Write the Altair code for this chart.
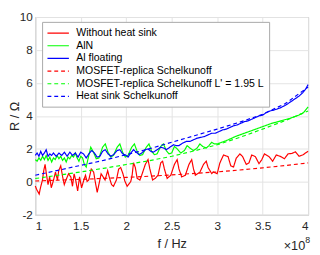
import altair as alt
import pandas as pd

# ---- data (frequency in units of 1e8 Hz, resistance in Ohm) ----
red_f = [1.000, 1.014, 1.043, 1.057, 1.079, 1.093, 1.108, 1.122, 1.140, 1.158, 1.176, 1.201, 1.222, 1.244,
         1.258, 1.280, 1.301, 1.319, 1.337, 1.366, 1.391, 1.409, 1.427, 1.444, 1.466, 1.487, 1.509, 1.534,
         1.552, 1.570, 1.588, 1.616, 1.642, 1.659, 1.681, 1.703, 1.724, 1.746, 1.767, 1.796, 1.817, 1.839,
         1.860, 1.892, 1.917, 1.939, 1.964, 1.985, 2.010, 2.050, 2.065, 2.080, 2.100, 2.120, 2.150, 2.170,
         2.210, 2.240, 2.260, 2.290, 2.320, 2.350, 2.380, 2.400, 2.420, 2.450, 2.490, 2.530, 2.560, 2.580,
         2.610, 2.650, 2.690, 2.720, 2.740, 2.760, 2.810, 2.850, 2.880, 2.900, 2.940, 2.960, 3.000, 3.030,
         3.070, 3.120, 3.150, 3.180, 3.210, 3.250, 3.280, 3.320, 3.350, 3.380, 3.420, 3.460, 3.490, 3.520,
         3.570, 3.610, 3.650, 3.700, 3.740, 3.780, 3.820, 3.860, 3.900, 3.940, 3.980, 4.000]
red_r = [-0.25, -0.45, -0.74, -0.36, 0.11, 0.68, 1.06, 0.49, -0.17, 0.30, -0.36, 0.11, 0.59, 0.11,
         0.68, 0.97, 0.30, -0.17, 0.11, 0.49, 0.30, -0.27, 0.49, 0.11, -0.55, 0.30, -0.36, 0.11,
         0.40, 0.02, 0.11, 0.78, 0.59, 0.02, -0.64, -0.07, 0.49, 0.30, 0.11, 0.68, 0.21, -0.17,
         -0.27, 0.11, 0.78, 0.87, 0.49, 0.05, -0.27, 0.02, 0.40, 1.16, 0.87, 0.21, 0.11, 0.40,
         1.06, 1.35, 0.78, 0.11, 0.21, 0.40, 1.16, 1.25, 0.78, 0.21, 0.40, 1.06, 1.35, 0.78,
         0.30, 0.40, 1.06, 1.35, 0.78, 0.40, 0.59, 1.06, 1.25, 0.87, 0.50, 0.60, 0.49, 1.15,
         1.63, 1.53, 0.97, 0.90, 1.44, 1.70, 1.53, 1.06, 1.15, 1.63, 1.53, 1.10, 1.34, 1.70,
         1.53, 1.25, 1.63, 1.53, 1.40, 1.70, 1.72, 1.82, 1.55, 1.63, 1.78, 1.85]

green_f = [1.00, 1.02, 1.04, 1.06, 1.08, 1.10, 1.12, 1.14, 1.16, 1.18, 1.20, 1.22, 1.24, 1.26, 1.28, 1.30,
           1.32, 1.34, 1.36, 1.38, 1.40, 1.42, 1.44, 1.46, 1.48, 1.50, 1.52, 1.54, 1.56, 1.58, 1.61, 1.64,
           1.67, 1.70, 1.74, 1.77, 1.80, 1.83, 1.86, 1.90, 1.93, 1.96, 1.99, 2.02, 2.06, 2.09, 2.12, 2.15,
           2.18, 2.22, 2.25, 2.28, 2.31, 2.34, 2.38, 2.41, 2.44, 2.47, 2.50, 2.53, 2.56, 2.60, 2.64, 2.67,
           2.70, 2.74, 2.78, 2.81, 2.84, 2.88, 2.91, 2.94, 2.97, 3.00, 3.05, 3.10, 3.15, 3.20, 3.25, 3.30,
           3.35, 3.40, 3.45, 3.50, 3.55, 3.60, 3.65, 3.70, 3.75, 3.80, 3.85, 3.90, 3.95, 4.00]
green_r = [1.35, 1.25, 1.45, 1.30, 1.55, 1.35, 1.60, 1.30, 1.50, 1.20, 1.45, 1.35, 1.60, 1.40, 1.55, 1.30,
           1.45, 1.20, 1.50, 1.40, 1.60, 1.50, 1.75, 1.45, 1.25, 1.55, 1.45, 1.05, 0.90, 1.40, 2.10, 1.80,
           1.40, 1.45, 2.10, 2.30, 1.80, 1.50, 1.60, 2.10, 2.30, 1.80, 1.50, 1.60, 2.10, 2.30, 1.85, 1.60,
           1.65, 2.10, 2.30, 1.85, 1.65, 1.70, 2.15, 2.30, 1.90, 1.70, 1.75, 2.15, 2.00, 1.75, 1.90, 2.20,
           2.05, 1.90, 2.05, 2.30, 2.15, 2.05, 2.20, 2.40, 2.30, 2.30, 2.40, 2.50, 2.62, 2.75, 2.85, 2.95,
           3.05, 3.15, 3.25, 3.35, 3.45, 3.55, 3.62, 3.70, 3.78, 3.85, 3.95, 4.05, 4.20, 4.55]

blue_f = [1.00, 1.02, 1.04, 1.06, 1.08, 1.10, 1.12, 1.14, 1.16, 1.18, 1.20, 1.23, 1.26, 1.29, 1.32, 1.35,
          1.38, 1.41, 1.44, 1.47, 1.50, 1.53, 1.56, 1.59, 1.62, 1.65, 1.68, 1.71, 1.74, 1.77, 1.80, 1.83,
          1.86, 1.90, 1.93, 1.96, 2.00, 2.02, 2.05, 2.08, 2.11, 2.14, 2.17, 2.21, 2.24, 2.27, 2.30, 2.34,
          2.38, 2.41, 2.44, 2.48, 2.52, 2.55, 2.58, 2.62, 2.66, 2.70, 2.74, 2.78, 2.82, 2.86, 2.90, 2.94,
          2.98, 3.02, 3.06, 3.10, 3.14, 3.18, 3.22, 3.26, 3.30, 3.34, 3.38, 3.42, 3.46, 3.50, 3.54, 3.58,
          3.62, 3.66, 3.70, 3.74, 3.78, 3.82, 3.86, 3.90, 3.94, 3.97, 4.00]
blue_r = [1.60, 1.75, 1.55, 1.85, 1.60, 1.75, 1.95, 1.55, 1.70, 1.60, 1.75, 1.55, 1.75, 1.60, 1.80, 1.55,
          1.80, 1.60, 1.75, 1.50, 1.80, 1.70, 1.45, 1.70, 1.90, 1.75, 1.50, 1.55, 1.85, 1.95, 1.70, 1.55,
          1.65, 1.90, 1.95, 1.70, 1.60, 1.50, 1.75, 1.95, 1.80, 1.65, 1.75, 1.95, 2.00, 1.85, 1.80, 1.95,
          2.10, 2.05, 1.95, 2.10, 2.25, 2.20, 2.20, 2.35, 2.45, 2.45, 2.55, 2.65, 2.70, 2.75, 2.85, 2.95,
          2.95, 3.05, 3.15, 3.20, 3.30, 3.40, 3.45, 3.55, 3.65, 3.70, 3.80, 3.90, 4.00, 4.05, 4.20, 4.30,
          4.35, 4.42, 4.50, 4.62, 4.75, 4.90, 5.05, 5.20, 5.40, 5.60, 5.90]

model_f = [1.00, 1.25, 1.50, 1.75, 2.00, 2.25, 2.50, 2.75, 3.00, 3.25, 3.50, 3.75, 4.00]
mosfet_r = [0.05, 0.10, 0.15, 0.21, 0.27, 0.34, 0.42, 0.51, 0.60, 0.72, 0.85, 0.99, 1.15]
mosfet_l_r = [0.20, 0.40, 0.60, 0.82, 1.05, 1.28, 1.55, 1.88, 2.25, 2.70, 3.20, 3.72, 4.30]
heatsink_r = [0.40, 0.70, 1.00, 1.30, 1.65, 2.00, 2.40, 2.80, 3.20, 3.62, 4.10, 4.75, 5.75]

series = ["Without heat sink", "AlN", "Al floating", "MOSFET-replica Schelkunoff",
          "MOSFET-replica Schelkunoff L' = 1.95 L", "Heat sink Schelkunoff"]
colors = ["#ff0000", "#00ff00", "#0000ff", "#ff0000", "#00ff00", "#0000ff"]
dashes = [[1, 0], [1, 0], [1, 0], [4, 3], [4, 3], [4, 3]]

x_ticks = [1, 1.5, 2, 2.5, 3, 3.5, 4]
y_ticks = [-2, 0, 2, 4, 6, 8, 10]

pairs = [(red_f, red_r), (green_f, green_r), (blue_f, blue_r),
         (model_f, mosfet_r), (model_f, mosfet_l_r), (model_f, heatsink_r)]
rows = []
for name, (fs, rs) in zip(series, pairs):
    for f, r in zip(fs, rs):
        rows.append({"f": f, "r": r, "s": name})
df = pd.DataFrame(rows)

W, H = 280, 203
FONT = "Liberation Sans"
GRAY = "#a8a8a8"
TXT = "#262626"

legend = alt.Legend(
    title=None, orient="none", legendX=7, legendY=5,
    symbolType="M-2,0L2,0", symbolSize=121, symbolOffset=5, symbolStrokeWidth=1.2,
    labelOffset=12, labelFont=FONT, labelFontSize=10.8, labelColor="#000000", labelLimit=0,
    padding=5, rowPadding=1, fillColor="white", strokeColor=GRAY,
)

lines = alt.Chart(df).mark_line(strokeWidth=1.2).encode(
    x=alt.X("f:Q", scale=alt.Scale(domain=[1, 4], nice=False, zero=False),
            axis=alt.Axis(values=x_ticks, labelExpr="'' + datum.value", title="f / Hz", titleY=30,
                          titleBaseline="middle", labelPadding=6)),
    y=alt.Y("r:Q", scale=alt.Scale(domain=[-2, 10], nice=False, zero=False),
            axis=alt.Axis(values=y_ticks, labelExpr="'' + datum.value", title="R / \u03a9",
                          titleX=-21, titleY=H / 2,
                          titleAngle=270, titleAlign="center", titleBaseline="middle",
                          labelPadding=3)),
    color=alt.Color("s:N", scale=alt.Scale(domain=series, range=colors), legend=legend),
    strokeDash=alt.StrokeDash("s:N", scale=alt.Scale(domain=series, range=dashes), legend=legend),
    order=alt.Order("f:Q"),
)

exp_df = pd.DataFrame({"t": ["\u00d710"], "e": ["8"]})
exp_base = alt.Chart(exp_df).mark_text(font=FONT, fontSize=13, color=TXT, align="right",
                                       baseline="alphabetic", dx=-3).encode(
    x=alt.datum(4), y=alt.value(H + 36), text="t:N")
exp_sup = alt.Chart(exp_df).mark_text(font=FONT, fontSize=9, color=TXT, align="left",
                                      baseline="alphabetic", dx=-3).encode(
    x=alt.datum(4), y=alt.value(H + 29), text="e:N")

chart = alt.layer(lines, exp_base, exp_sup).properties(
    width=W, height=H,
    autosize=alt.AutoSizeParams(type="none"),
    padding={"left": 28, "top": 6, "right": 4, "bottom": 38},
).configure_view(stroke=GRAY, strokeWidth=1).configure_axis(
    domain=False, ticks=False, tickSize=0, grid=True, gridColor="#e3e3e3", gridWidth=1,
    labelFont=FONT, labelFontSize=12, labelColor=TXT,
    titleFont=FONT, titleFontSize=13, titleFontWeight="normal", titleColor=TXT,
)

chart.save("out.html", embed_options={"renderer": "svg", "actions": False})
